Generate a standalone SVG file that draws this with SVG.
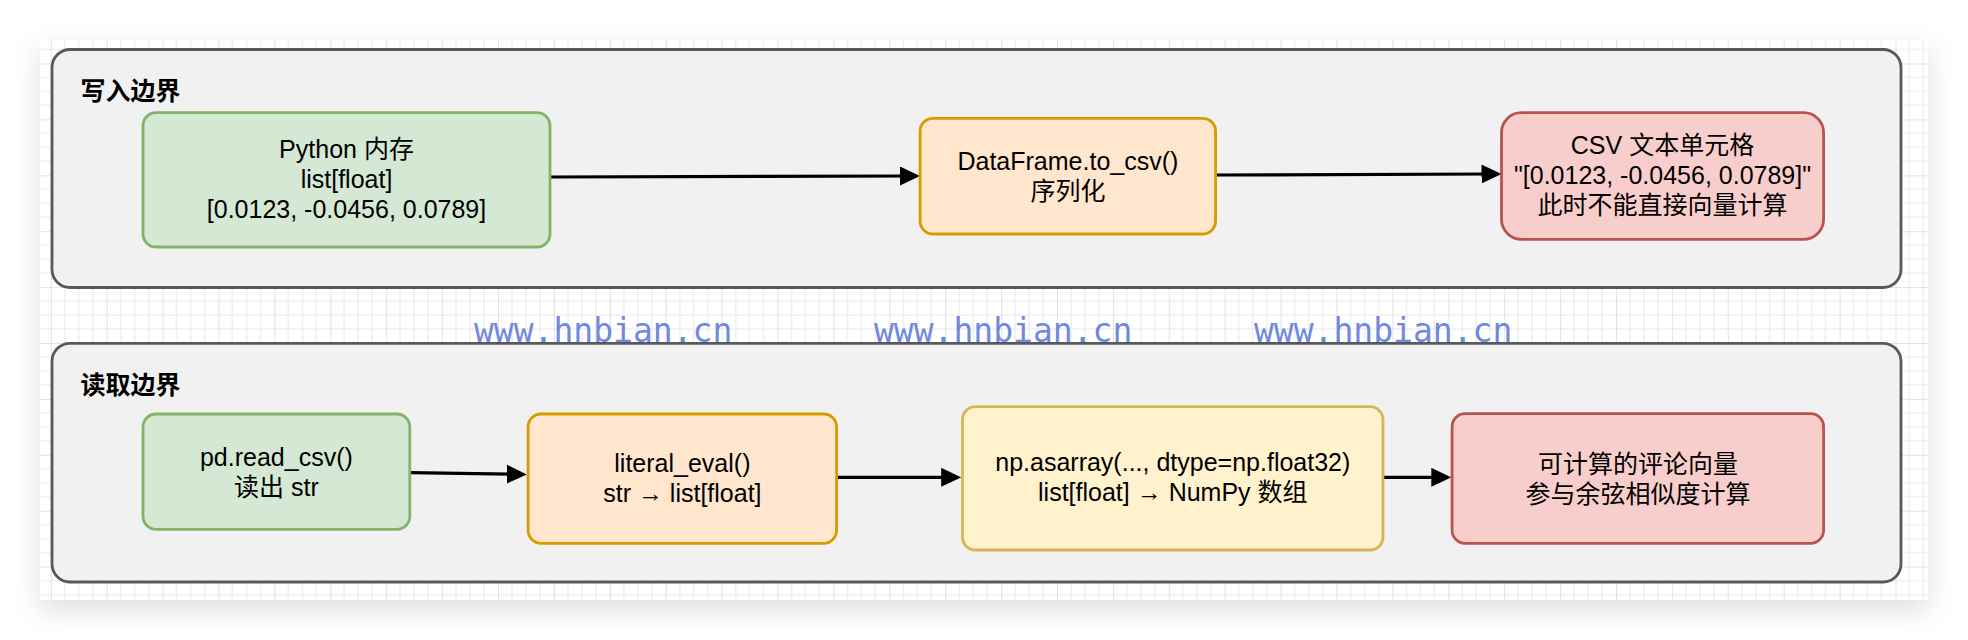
<svg xmlns="http://www.w3.org/2000/svg" width="1968" height="640" viewBox="0 0 1968 640">
  <style>
    .grp { fill: #f1f1f1; stroke: #595959; stroke-width: 2.8; }
    .title { font-family: "Liberation Sans", "Noto Sans CJK SC", sans-serif; font-size: 25px; font-weight: bold; fill: #000; }
    .lbl { font-family: "Liberation Sans", "Noto Sans CJK SC", sans-serif; font-size: 25px; fill: #000; text-anchor: middle; }
    .green { fill: #d5e8d4; stroke: #82b366; stroke-width: 2.8; }
    .orange { fill: #ffe6cc; stroke: #d79b00; stroke-width: 2.8; }
    .yellow { fill: #fff2cc; stroke: #d6b656; stroke-width: 2.8; }
    .red { fill: #f8cecc; stroke: #b85450; stroke-width: 2.8; }
    .edge { fill: none; stroke: #000; stroke-width: 3.2; marker-end: url(#arrow); }
    .wm { font-family: "DejaVu Sans Mono", "Liberation Mono", monospace; font-size: 33px; fill: #7088de; }
  </style>
  <defs>
    <pattern id="grid" patternUnits="userSpaceOnUse" x="50.8" y="63.5" width="55.9" height="55.9">
      <path d="M13.97 0V55.9M27.95 0V55.9M41.92 0V55.9M0 13.97H55.9M0 27.95H55.9M0 41.92H55.9" stroke="#efefef" stroke-width="1.6" fill="none"/>
      <path d="M0 0V55.9M0 0H55.9" stroke="#c8c8c8" stroke-width="1" fill="none"/>
    </pattern>
    <filter id="shadow" x="-5%" y="-20%" width="110%" height="140%">
      <feDropShadow dx="0" dy="10" stdDeviation="14" flood-color="#000" flood-opacity="0.13"/>
    </filter>
    <marker id="arrow" markerUnits="userSpaceOnUse" markerWidth="20" markerHeight="19" refX="10" refY="9.5" orient="auto">
      <path d="M0 0L20 9.5L0 19Z" fill="#000"/>
    </marker>
  </defs>

  <rect x="0" y="0" width="1968" height="640" fill="#ffffff"/>
  <rect x="40" y="40" width="1888" height="560" fill="#ffffff" filter="url(#shadow)"/>
  <rect x="40" y="40" width="1888" height="560" fill="url(#grid)"/>

  <g id="write-boundary">
    <rect class="grp" x="52" y="49.5" width="1849" height="238" rx="18" ry="18"/>
    <text class="title" x="80.5" y="99.5">写入边界</text>
  </g>
  <g id="read-boundary">
    <rect class="grp" x="52" y="343.3" width="1849" height="238.7" rx="18" ry="18"/>
    <text class="title" x="80.5" y="394">读取边界</text>
  </g>

  <g id="connectors">
    <path class="edge" d="M550 177L910 176"/>
    <path class="edge" d="M1215.6 175L1491.5 174"/>
    <path class="edge" d="M409.8 472.7L516.8 474.3"/>
    <path class="edge" d="M836.6 477.3L951.2 477.3"/>
    <path class="edge" d="M1383 477.3L1441.3 477.3"/>
  </g>

  <g id="python-memory">
    <rect class="green" x="143" y="112.7" width="407" height="134.3" rx="13" ry="13"/>
    <text class="lbl" x="346.5" y="158">Python 内存</text>
    <text class="lbl" x="346.5" y="188">list[float]</text>
    <text class="lbl" x="346.5" y="218">[0.0123, -0.0456, 0.0789]</text>
  </g>
  <g id="to-csv">
    <rect class="orange" x="920.1" y="118.3" width="295.5" height="115.7" rx="13" ry="13"/>
    <text class="lbl" x="1067.9" y="170">DataFrame.to_csv()</text>
    <text class="lbl" x="1067.9" y="200">序列化</text>
  </g>
  <g id="csv-cell">
    <rect class="red" x="1501.5" y="112.7" width="322.1" height="126.6" rx="20" ry="20"/>
    <text class="lbl" x="1662.5" y="154">CSV 文本单元格</text>
    <text class="lbl" x="1662.5" y="184">"[0.0123, -0.0456, 0.0789]"</text>
    <text class="lbl" x="1662.5" y="214">此时不能直接向量计算</text>
  </g>

  <g id="read-csv">
    <rect class="green" x="143" y="414" width="266.8" height="115.3" rx="13" ry="13"/>
    <text class="lbl" x="276.4" y="465.7">pd.read_csv()</text>
    <text class="lbl" x="276.4" y="495.5">读出 str</text>
  </g>
  <g id="literal-eval">
    <rect class="orange" x="528.1" y="414" width="308.5" height="129.3" rx="13" ry="13"/>
    <text class="lbl" x="682.4" y="472.3">literal_eval()</text>
    <text class="lbl" x="682.4" y="502">str → list[float]</text>
  </g>
  <g id="asarray">
    <rect class="yellow" x="962.5" y="406.7" width="420.5" height="143.3" rx="13" ry="13"/>
    <text class="lbl" x="1172.8" y="470.7">np.asarray(..., dtype=np.float32)</text>
    <text class="lbl" x="1172.8" y="500.5">list[float] → NumPy 数组</text>
  </g>
  <g id="vectors">
    <rect class="red" x="1452.1" y="413.7" width="371.5" height="129.6" rx="13" ry="13"/>
    <text class="lbl" x="1637.9" y="472.7">可计算的评论向量</text>
    <text class="lbl" x="1637.9" y="502.7">参与余弦相似度计算</text>
  </g>

  <g id="watermark">
    <text class="wm" x="474" y="341.7">www.hnbian.cn</text>
    <text class="wm" x="874" y="341.7">www.hnbian.cn</text>
    <text class="wm" x="1254" y="341.7">www.hnbian.cn</text>
  </g>
</svg>
